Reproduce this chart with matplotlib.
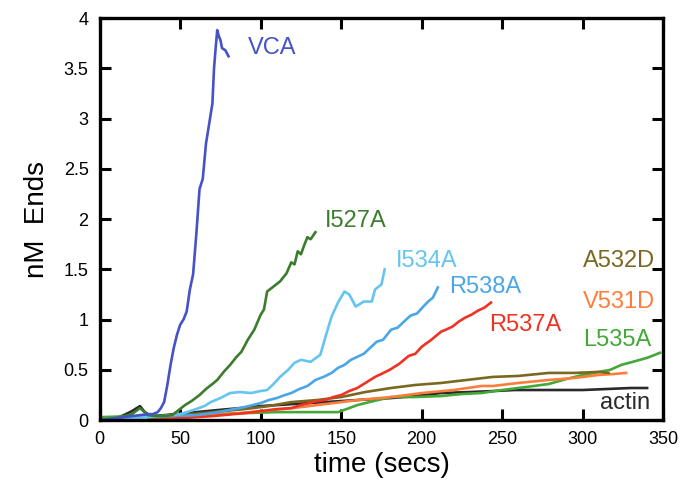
import matplotlib
matplotlib.use("Agg")
import matplotlib.pyplot as plt

plt.rcParams['font.family'] = ['Liberation Sans', 'DejaVu Sans']

# time (secs) / nM ends
vca_t = [0, 5, 10, 15, 20, 25, 30, 33, 36, 38, 40, 42, 44, 46, 48, 50, 52, 54,
         56, 58, 60, 62, 64, 66, 68, 70, 71, 72, 73, 74, 75, 76, 78, 80]
vca_y = [0, 0.01, 0.02, 0.03, 0.04, 0.05, 0.06, 0.06, 0.08, 0.12, 0.18, 0.35,
         0.55, 0.72, 0.85, 0.95, 1.0, 1.08, 1.3, 1.45, 1.85, 2.3, 2.4, 2.75,
         2.95, 3.15, 3.5, 3.7, 3.88, 3.82, 3.78, 3.7, 3.68, 3.62]

i527a_t = [0, 10, 20, 25, 30, 35, 40, 45, 49, 53, 57, 62, 66, 70, 73, 77, 81,
           85, 88, 92, 96, 100, 102, 104, 108, 112, 116, 119, 121, 123, 125,
           127, 129, 131, 134]
i527a_y = [0, 0.02, 0.06, 0.12, 0.05, 0.04, 0.04, 0.05, 0.1, 0.15, 0.19, 0.25,
           0.31, 0.36, 0.4, 0.48, 0.55, 0.63, 0.68, 0.8, 0.9, 1.05, 1.1, 1.28,
           1.33, 1.38, 1.46, 1.57, 1.55, 1.68, 1.65, 1.74, 1.82, 1.8, 1.87]

i534a_t = [0, 20, 40, 50, 58, 65, 69, 75, 81, 87, 94, 100, 104, 108, 112, 117,
           121, 125, 131, 137, 141, 144, 148, 152, 155, 159, 164, 169, 171, 175,
           177]
i534a_y = [0, 0.02, 0.04, 0.06, 0.1, 0.14, 0.18, 0.22, 0.27, 0.28, 0.27, 0.29,
           0.3, 0.36, 0.43, 0.5, 0.57, 0.6, 0.58, 0.65, 0.87, 1.03, 1.17, 1.28,
           1.25, 1.13, 1.18, 1.18, 1.3, 1.35, 1.5]

r538a_t = [0, 20, 40, 60, 70, 80, 90, 100, 105, 110, 115, 119, 124, 129, 134,
           139, 144, 148, 152, 156, 160, 164, 168, 172, 176, 181, 185, 189, 193,
           197, 201, 204, 207, 210]
r538a_y = [0, 0.03, 0.04, 0.05, 0.07, 0.1, 0.13, 0.17, 0.2, 0.22, 0.25, 0.27,
           0.31, 0.34, 0.4, 0.43, 0.47, 0.52, 0.55, 0.6, 0.63, 0.66, 0.72, 0.78,
           0.8, 0.9, 0.92, 0.98, 1.04, 1.06, 1.13, 1.18, 1.22, 1.32]

r537a_t = [30, 50, 70, 90, 100, 110, 119, 125, 130, 135, 140, 145, 150, 155,
           160, 165, 171, 175, 180, 186, 192, 196, 200, 206, 212, 215, 219, 223,
           227, 231, 235, 239, 243]
r537a_y = [0, 0.02, 0.04, 0.07, 0.09, 0.11, 0.12, 0.15, 0.17, 0.19, 0.2, 0.23,
           0.25, 0.29, 0.32, 0.37, 0.43, 0.46, 0.5, 0.56, 0.64, 0.66, 0.73, 0.8,
           0.88, 0.9, 0.93, 0.98, 1.02, 1.05, 1.09, 1.12, 1.17]

a532d_t = [30, 50, 70, 90, 105, 119, 135, 150, 165, 181, 196, 212, 228, 244,
           260, 279, 295, 310, 316]
a532d_y = [0.02, 0.05, 0.08, 0.11, 0.14, 0.18, 0.2, 0.23, 0.28, 0.32, 0.35,
           0.37, 0.4, 0.43, 0.44, 0.47, 0.47, 0.48, 0.47]

v531d_t = [40, 60, 80, 100, 120, 140, 160, 181, 200, 220, 237, 244, 260, 279,
           295, 310, 320, 327]
v531d_y = [0.02, 0.04, 0.06, 0.09, 0.12, 0.16, 0.2, 0.23, 0.27, 0.3, 0.34,
           0.34, 0.37, 0.4, 0.42, 0.45, 0.46, 0.47]

l535a_t = [0, 20, 35, 50, 70, 90, 110, 130, 148, 155, 160, 170, 181, 195, 212,
           225, 237, 250, 265, 279, 290, 300, 310, 317, 324, 331, 340, 348]
l535a_y = [0.03, 0.04, 0.04, 0.05, 0.06, 0.07, 0.08, 0.08, 0.08, 0.12, 0.15,
           0.19, 0.23, 0.23, 0.24, 0.26, 0.27, 0.3, 0.33, 0.36, 0.41, 0.45,
           0.48, 0.5, 0.55, 0.58, 0.62, 0.67]

actin_t = [0, 10, 15, 20, 25, 28, 32, 40, 60, 73, 87, 100, 120, 140, 160, 181,
           196, 212, 230, 245, 258, 275, 290, 300, 315, 330, 340]
actin_y = [0, 0.02, 0.05, 0.09, 0.14, 0.08, 0.04, 0.05, 0.08, 0.1, 0.12, 0.14,
           0.16, 0.18, 0.2, 0.22, 0.24, 0.27, 0.28, 0.29, 0.3, 0.3, 0.3, 0.3,
           0.31, 0.32, 0.32]

series = [
    ("actin", actin_t, actin_y, "#2a2a2a", (311, 0.17)),
    ("L535A", l535a_t, l535a_y, "#43a838", (300, 0.80)),
    ("V531D", v531d_t, v531d_y, "#ff7d3c", (300, 1.18)),
    ("A532D", a532d_t, a532d_y, "#7a6820", (300, 1.58)),
    ("R537A", r537a_t, r537a_y, "#ee3322", (242, 0.95)),
    ("R538A", r538a_t, r538a_y, "#4aa6e6", (217, 1.32)),
    ("I534A", i534a_t, i534a_y, "#66c4f0", (184, 1.58)),
    ("I527A", i527a_t, i527a_y, "#3b7d2c", (140, 1.98)),
    ("VCA", vca_t, vca_y, "#4652c8", (92, 3.70)),
]

fig = plt.figure(figsize=(6.83, 4.88), dpi=100)
ax = fig.add_axes([0.146, 0.139, 0.825, 0.824])

for name, t, y, color, (lx, ly) in series:
    ax.plot(t, y, color=color, lw=1.9)
    ax.text(lx, ly, name, color=color, fontsize=17, va="center", ha="left")

ax.set_xlim(0, 350)
ax.set_ylim(0, 4)
ax.set_xticks(range(0, 351, 50))
ax.set_yticks([0, 0.5, 1, 1.5, 2, 2.5, 3, 3.5, 4])
ax.set_yticklabels(["0", "0.5", "1", "1.5", "2", "2.5", "3", "3.5", "4"])
ax.tick_params(direction="in", top=True, right=True, length=8, width=2.2,
               labelsize=13, pad=8)
for s in ax.spines.values():
    s.set_linewidth(2.4)

ax.set_xlabel("time (secs)", fontsize=20, labelpad=3)
ax.set_ylabel("nM  Ends", fontsize=20, labelpad=10)

fig.savefig("out.png", dpi=100)
